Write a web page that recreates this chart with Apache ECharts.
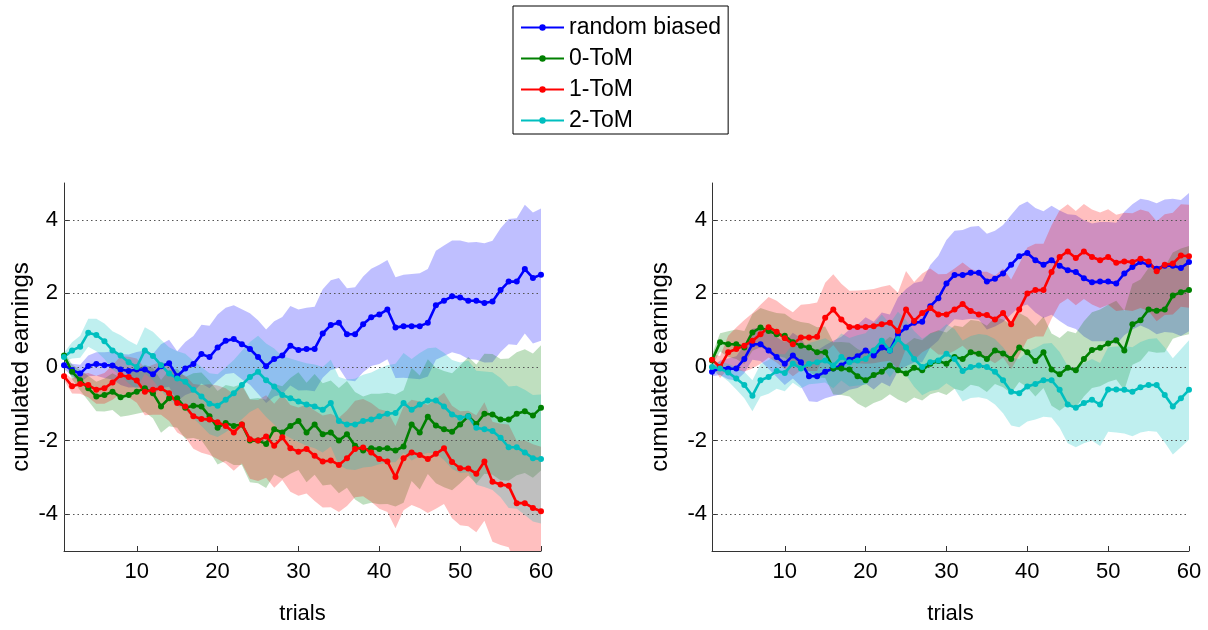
<!DOCTYPE html>
<html>
<head>
<meta charset="utf-8">
<script src="https://cdn.jsdelivr.net/npm/echarts@6/dist/echarts.min.js"></script>
<style>
html,body{margin:0;padding:0;background:#fff;}
#chart{width:1208px;height:630px;}
</style>
</head>
<body>
<div id="chart"></div>
<script>
// ---------- DATA ----------
const seriesNames = ['random biased', '0-ToM', '1-ToM', '2-ToM'];
const trials = Array.from({length: 60}, (_, k) => k + 1);
const xTickValues = [10, 20, 30, 40, 50, 60];
const yTickValues = [-4, -2, 0, 2, 4];

// Left panel: mean cumulated earnings
const blueLeft = [0.05,-0.08,-0.18,0.03,0.08,0.05,0.04,-0.07,-0.11,-0.07,
  -0.07,-0.2,0.02,0.1,-0.25,-0.04,0.08,0.35,0.27,0.53,
  0.71,0.76,0.62,0.49,0.27,0.02,0.22,0.31,0.58,0.46,
  0.49,0.49,0.91,1.14,1.2,0.89,0.89,1.16,1.35,1.43,
  1.56,1.07,1.11,1.11,1.11,1.2,1.68,1.8,1.92,1.89,
  1.8,1.8,1.74,1.78,2.09,2.32,2.32,2.66,2.42,2.51];
const greenLeft = [0.31,-0.13,-0.36,-0.58,-0.8,-0.76,-0.67,-0.82,-0.76,-0.67,
  -0.58,-0.71,-1.07,-0.85,-0.85,-1.11,-1.05,-1.07,-1.34,-1.65,
  -1.52,-1.6,-1.56,-2.0,-2.0,-2.09,-1.69,-1.78,-1.6,-1.47,
  -1.78,-1.56,-1.83,-1.78,-2.0,-1.83,-2.14,-2.27,-2.21,-2.23,
  -2.21,-2.27,-2.16,-1.56,-1.78,-1.35,-1.59,-1.69,-1.76,-1.56,
  -1.34,-1.55,-1.27,-1.29,-1.43,-1.43,-1.27,-1.2,-1.32,-1.11];
const redLeft = [-0.25,-0.52,-0.46,-0.49,-0.62,-0.58,-0.42,-0.22,-0.27,-0.37,
  -0.67,-0.62,-0.58,-0.71,-0.98,-1.07,-1.34,-1.41,-1.43,-1.5,
  -1.6,-1.78,-1.56,-1.96,-2.0,-1.89,-2.14,-1.91,-2.21,-2.3,
  -2.23,-2.41,-2.57,-2.54,-2.66,-2.48,-2.23,-2.19,-2.32,-2.5,
  -2.57,-2.99,-2.48,-2.32,-2.39,-2.5,-2.36,-2.21,-2.58,-2.75,
  -2.76,-2.9,-2.57,-3.12,-3.19,-3.23,-3.7,-3.7,-3.83,-3.92];
const cyanLeft = [0.27,0.45,0.55,0.93,0.87,0.7,0.45,0.31,0.13,0.0,
  0.45,0.3,0.05,-0.18,-0.31,-0.4,-0.62,-0.8,-1.0,-1.05,
  -0.89,-0.71,-0.49,-0.27,-0.13,-0.36,-0.53,-0.76,-0.85,-0.94,
  -1.02,-1.07,-1.16,-0.98,-1.47,-1.56,-1.56,-1.47,-1.43,-1.34,
  -1.27,-1.25,-0.98,-1.16,-1.02,-0.91,-0.91,-1.07,-1.29,-1.38,
  -1.34,-1.65,-1.69,-1.74,-1.92,-2.18,-2.18,-2.32,-2.48,-2.5];

// Left panel: half-width of the shaded bands
const blueLeftSpread = [0.1,0.17,0.24,0.28,0.32,0.35,0.38,0.42,0.45,0.48,
  0.52,0.55,0.6,0.64,0.68,0.72,0.76,0.8,0.85,0.9,
  0.9,0.92,0.95,0.97,1.0,1.0,1.02,1.05,1.08,1.1,
  1.12,1.15,1.2,1.22,1.22,1.25,1.28,1.3,1.32,1.35,
  1.35,1.37,1.4,1.42,1.44,1.46,1.48,1.5,1.52,1.55,
  1.58,1.6,1.62,1.65,1.68,1.7,1.72,1.75,1.78,1.8];
const greenLeftSpread = [0.1,0.2,0.28,0.34,0.4,0.45,0.5,0.53,0.56,0.6,
  0.64,0.68,0.72,0.76,0.8,0.84,0.88,0.92,0.96,1.0,
  1.03,1.06,1.1,1.13,1.16,1.2,1.23,1.26,1.3,1.33,
  1.35,1.37,1.39,1.41,1.43,1.45,1.46,1.47,1.48,1.5,
  1.51,1.52,1.53,1.54,1.55,1.56,1.57,1.58,1.59,1.6,
  1.61,1.62,1.63,1.64,1.65,1.66,1.67,1.68,1.69,1.7];
const redLeftSpread = [0.1,0.2,0.27,0.33,0.38,0.42,0.47,0.51,0.55,0.6,
  0.64,0.68,0.72,0.76,0.8,0.84,0.88,0.92,0.96,1.0,
  1.02,1.04,1.06,1.08,1.1,1.12,1.14,1.16,1.18,1.2,
  1.21,1.23,1.25,1.27,1.28,1.3,1.31,1.32,1.34,1.35,
  1.37,1.39,1.41,1.43,1.45,1.47,1.49,1.51,1.53,1.55,
  1.57,1.59,1.61,1.63,1.65,1.67,1.69,1.71,1.73,1.75];
const cyanLeftSpread = [0.12,0.22,0.3,0.38,0.44,0.48,0.52,0.55,0.58,0.6,
  0.63,0.66,0.69,0.72,0.74,0.76,0.78,0.8,0.83,0.85,
  0.88,0.9,0.93,0.95,0.98,1.0,1.03,1.05,1.08,1.1,
  1.12,1.14,1.16,1.18,1.2,1.22,1.24,1.26,1.28,1.3,
  1.32,1.34,1.36,1.38,1.4,1.42,1.44,1.46,1.48,1.5,
  1.52,1.55,1.57,1.6,1.62,1.65,1.67,1.7,1.72,1.75];

// Right panel: mean cumulated earnings
const blueRight = [-0.13,-0.02,-0.05,-0.04,0.22,0.62,0.62,0.45,0.27,0.09,
  0.31,0.13,-0.25,-0.25,-0.13,-0.04,0.04,0.2,0.29,0.45,
  0.31,0.53,0.45,0.89,1.07,1.2,1.23,1.65,1.87,2.27,
  2.5,2.5,2.56,2.56,2.32,2.4,2.54,2.78,3.01,3.1,
  2.9,2.78,2.9,2.75,2.63,2.58,2.41,2.3,2.32,2.32,
  2.27,2.54,2.72,2.85,2.78,2.67,2.75,2.75,2.69,2.85];
const greenRight = [0.18,0.67,0.62,0.62,0.53,0.94,1.07,0.98,0.89,0.85,
  0.67,0.58,0.53,0.4,0.4,-0.04,-0.04,-0.07,-0.25,-0.36,
  -0.22,-0.13,0.04,-0.09,-0.18,-0.02,-0.09,0.09,0.16,0.09,
  0.27,0.22,0.4,0.36,0.22,0.45,0.37,0.22,0.53,0.4,
  0.16,0.4,-0.07,-0.2,-0.02,-0.09,0.22,0.46,0.52,0.64,
  0.73,0.45,1.16,1.27,1.56,1.53,1.56,1.94,2.03,2.09];
const redRight = [0.2,0.0,0.4,0.49,0.58,0.71,0.89,1.08,0.96,0.78,
  0.62,0.8,0.8,0.82,1.34,1.56,1.29,1.09,1.09,1.09,
  1.11,1.16,1.2,0.98,1.56,1.25,1.47,1.6,1.43,1.43,
  1.56,1.71,1.52,1.43,1.41,1.29,1.47,1.16,1.56,2.0,
  2.09,2.09,2.58,2.99,3.14,2.96,3.14,2.99,2.9,2.99,
  2.83,2.87,2.85,2.94,2.87,2.6,2.78,2.81,3.03,3.01];
const cyanRight = [0.0,-0.04,-0.15,-0.31,-0.49,-0.78,-0.36,-0.27,-0.11,-0.16,
  0.09,-0.04,0.09,0.13,0.18,0.04,0.27,0.13,0.18,0.22,
  0.45,0.71,0.45,0.76,0.53,0.22,0.0,0.13,0.18,0.36,
  0.22,-0.11,0.0,0.04,0.0,-0.13,-0.36,-0.67,-0.71,-0.53,
  -0.46,-0.36,-0.36,-0.62,-1.02,-1.11,-0.98,-0.89,-1.02,-0.61,
  -0.61,-0.62,-0.67,-0.55,-0.49,-0.49,-0.76,-1.07,-0.85,-0.62];

// Right panel: half-width of the shaded bands
const blueRightSpread = [0.12,0.2,0.28,0.33,0.38,0.42,0.46,0.5,0.54,0.58,
  0.62,0.65,0.68,0.7,0.72,0.75,0.78,0.82,0.86,0.9,
  0.92,0.95,0.98,1.0,1.05,1.08,1.1,1.12,1.15,1.18,
  1.2,1.22,1.25,1.27,1.3,1.3,1.32,1.35,1.38,1.4,
  1.42,1.45,1.48,1.5,1.52,1.55,1.58,1.6,1.62,1.62,
  1.65,1.68,1.7,1.72,1.75,1.78,1.8,1.82,1.85,1.88];
const greenRightSpread = [0.15,0.25,0.35,0.4,0.45,0.5,0.53,0.55,0.58,0.6,
  0.62,0.64,0.66,0.68,0.7,0.71,0.72,0.73,0.74,0.75,
  0.76,0.77,0.78,0.79,0.8,0.81,0.82,0.83,0.84,0.85,
  0.86,0.87,0.88,0.89,0.9,0.91,0.92,0.93,0.94,0.95,
  0.96,0.97,0.98,0.99,1.0,1.01,1.02,1.03,1.04,1.05,
  1.07,1.08,1.1,1.11,1.13,1.14,1.16,1.17,1.19,1.2];
const redRightSpread = [0.15,0.3,0.45,0.58,0.7,0.75,0.8,0.82,0.84,0.85,
  0.87,0.89,0.91,0.93,0.95,0.96,0.97,0.98,0.99,1.0,
  1.01,1.02,1.03,1.04,1.05,1.06,1.07,1.08,1.09,1.1,
  1.12,1.13,1.15,1.16,1.18,1.19,1.21,1.22,1.24,1.25,
  1.26,1.26,1.27,1.27,1.28,1.28,1.29,1.29,1.3,1.3,
  1.31,1.32,1.33,1.34,1.35,1.36,1.37,1.38,1.39,1.4];
const cyanRightSpread = [0.12,0.18,0.24,0.3,0.36,0.42,0.44,0.46,0.48,0.5,
  0.52,0.54,0.56,0.58,0.6,0.62,0.64,0.66,0.68,0.7,
  0.71,0.72,0.73,0.74,0.75,0.76,0.77,0.78,0.79,0.8,
  0.81,0.83,0.84,0.86,0.87,0.89,0.9,0.92,0.93,0.95,
  0.97,0.99,1.01,1.03,1.05,1.07,1.09,1.11,1.13,1.15,
  1.17,1.19,1.21,1.23,1.25,1.27,1.29,1.31,1.33,1.35];

const seriesColors = ['#0000ff', '#008000', '#ff0000', '#00bfbf'];

// ---------- BUILD ----------
const FONT = "'Liberation Sans', Arial, Helvetica, sans-serif";
const panels = [
  {vals: [blueLeft, greenLeft, redLeft, cyanLeft],
   spread: [blueLeftSpread, greenLeftSpread, redLeftSpread, cyanLeftSpread]},
  {vals: [blueRight, greenRight, redRight, cyanRight],
   spread: [blueRightSpread, greenRightSpread, redRightSpread, cyanRightSpread]}
];

const series = [];
panels.forEach((p, pi) => {
  p.vals.forEach((vals, si) => {
    const hw = p.spread[si];
    const stackId = 'band' + pi + '_' + si;
    series.push({
      type: 'line', xAxisIndex: pi, yAxisIndex: pi,
      stack: stackId, stackStrategy: 'all',
      data: vals.map((v, k) => v - hw[k]),
      symbol: 'none', showSymbol: false, lineStyle: {opacity: 0, width: 0}, silent: true, z: 1,
      markLine: si === 0 ? {
        silent: true, symbol: ['none', 'none'], label: {show: false},
        lineStyle: {type: [1.5, 3], color: '#555', width: 1},
        data: yTickValues.map(v => ({yAxis: v}))
      } : undefined
    });
    series.push({
      type: 'line', xAxisIndex: pi, yAxisIndex: pi,
      stack: stackId, stackStrategy: 'all',
      data: hw.map(h => 2 * h),
      symbol: 'none', showSymbol: false, lineStyle: {opacity: 0, width: 0}, silent: true, z: 1,
      areaStyle: {color: seriesColors[si], opacity: 0.25}
    });
  });
});
panels.forEach((p, pi) => {
  p.vals.forEach((vals, si) => {
    series.push({
      name: seriesNames[si], type: 'line', xAxisIndex: pi, yAxisIndex: pi,
      data: vals,
      symbol: 'circle', symbolSize: 6, showSymbol: true, showAllSymbol: true,
      color: seriesColors[si],
      itemStyle: {color: seriesColors[si]},
      lineStyle: {color: seriesColors[si], width: 2.6},
      z: 5
    });
  });
});

const axisColor = '#333';
const isTick = (idx, val) => xTickValues.indexOf(Number(val)) >= 0;
function xAxisDef(gi) {
  return {
    type: 'category', gridIndex: gi, data: trials, boundaryGap: false,
    name: 'trials', nameLocation: 'middle', nameGap: 52,
    nameTextStyle: {fontFamily: FONT, fontSize: 22, color: '#000'},
    axisLine: {show: true, onZero: false, lineStyle: {color: axisColor, width: 1}},
    axisTick: {show: true, inside: true, length: 5, interval: isTick, lineStyle: {color: axisColor}},
    axisLabel: {interval: isTick, fontFamily: FONT, fontSize: 22, color: '#000', margin: 10},
    splitLine: {show: false}
  };
}
function yAxisDef(gi, gap, lmargin) {
  return {
    type: 'value', gridIndex: gi, min: -5, max: 5,
    name: 'cumulated earnings', nameLocation: 'middle', nameRotate: 90, nameGap: gap,
    nameTextStyle: {fontFamily: FONT, fontSize: 24, color: '#000'},
    axisLine: {show: true, onZero: false, lineStyle: {color: axisColor, width: 1}},
    axisTick: {show: true, inside: true, length: 5, customValues: yTickValues, lineStyle: {color: axisColor}},
    axisLabel: {customValues: yTickValues, fontFamily: FONT, fontSize: 22, color: '#000', margin: lmargin},
    splitLine: {show: false}
  };
}

const option = {
  animation: false,
  backgroundColor: '#fff',
  legend: {
    data: seriesNames,
    orient: 'vertical', left: 513, top: 6,
    itemWidth: 43, itemHeight: 8, itemGap: 8, itemTextGap: 5,
    padding: [10, 7, 2, 7],
    borderColor: '#000', borderWidth: 1, backgroundColor: '#fff',
    textStyle: {fontFamily: FONT, fontSize: 23, color: '#000'},
    selectedMode: false
  },
  grid: [
    {left: 64, top: 183, width: 477, height: 373},
    {left: 712, top: 183, width: 477, height: 373}
  ],
  xAxis: [xAxisDef(0), xAxisDef(1)],
  yAxis: [yAxisDef(0, 31, 6), yAxisDef(1, 40, 5)],
  series: series
};

const chart = echarts.init(document.getElementById('chart'), null, {renderer: 'canvas'});
chart.setOption(option);
</script>
</body>
</html>
